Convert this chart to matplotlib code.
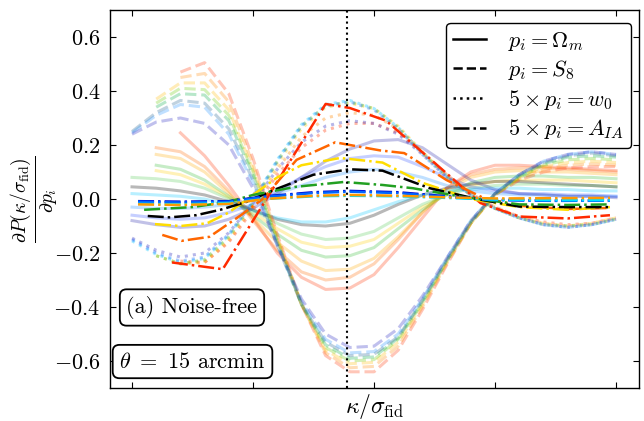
import numpy as np
import matplotlib
matplotlib.use("Agg")
import matplotlib.pyplot as plt
from matplotlib.lines import Line2D

plt.rcParams["font.family"] = "serif"
plt.rcParams["font.serif"] = ["cmr10"]
plt.rcParams["mathtext.fontset"] = "cm"
plt.rcParams["axes.formatter.use_mathtext"] = True

nan = np.nan

# kappa / sigma_fid grid (arbitrary units, ticks unlabeled in the figure)
KAPPA = [0.0, 0.2, 0.4, 0.6, 0.8, 1.0, 1.2, 1.4, 1.6, 1.8, 2.0,
         2.2, 2.4, 2.6, 2.8, 3.0, 3.2, 3.4, 3.6, 3.8, 4.0]
KAPPA_TICKS = [0, 1, 2, 3, 4]
KAPPA_PEAK = 1.78
Y_TICKS = [-0.6, -0.4, -0.2, 0.0, 0.2, 0.4, 0.6]

# p_i = Omega_m (faint solid)
OM_COLORS = ["#ff3300", "#ff6a00", "#ffaa00", "#33bb33", "#ffd000", "#55cc55",
             "#000000", "#00c8ff", "#1e90ff", "#3355ff", "#2222aa"]
OM_CURVES = [
    [nan, nan, 0.245, 0.16, 0.05, -0.07, -0.20, -0.29, -0.335, -0.33, -0.28, -0.18, -0.07, 0.04, 0.10, 0.125, 0.125, 0.12, 0.115, 0.11, 0.105],
    [nan, 0.19, 0.175, 0.12, 0.03, -0.08, -0.19, -0.27, -0.30, -0.29, -0.24, -0.15, -0.05, 0.04, 0.09, 0.11, 0.115, 0.115, 0.11, 0.105, 0.10],
    [nan, 0.165, 0.15, 0.10, 0.02, -0.07, -0.16, -0.23, -0.265, -0.26, -0.22, -0.14, -0.05, 0.03, 0.08, 0.10, 0.105, 0.10, 0.10, 0.095, 0.09],
    [nan, 0.125, 0.11, 0.07, 0.01, -0.06, -0.13, -0.19, -0.215, -0.21, -0.18, -0.11, -0.04, 0.02, 0.06, 0.08, 0.085, 0.085, 0.08, 0.08, 0.075],
    [nan, 0.105, 0.09, 0.055, 0.005, -0.05, -0.11, -0.16, -0.18, -0.175, -0.15, -0.09, -0.03, 0.015, 0.05, 0.065, 0.07, 0.07, 0.07, 0.065, 0.06],
    [0.08, 0.075, 0.065, 0.04, 0.0, -0.04, -0.09, -0.13, -0.15, -0.145, -0.12, -0.07, -0.02, 0.015, 0.04, 0.05, 0.055, 0.055, 0.05, 0.05, 0.045],
    [0.045, 0.04, 0.03, 0.015, -0.01, -0.04, -0.075, -0.095, -0.10, -0.09, -0.06, -0.02, 0.015, 0.04, 0.055, 0.065, 0.065, 0.06, 0.055, 0.05, 0.045],
    [0.02, 0.015, 0.01, 0.0, -0.02, -0.045, -0.07, -0.085, -0.085, -0.07, -0.04, -0.01, 0.015, 0.03, 0.035, 0.04, 0.04, 0.035, 0.035, 0.03, 0.03],
    [-0.03, -0.035, -0.035, -0.03, -0.02, -0.005, 0.02, 0.05, 0.08, 0.10, 0.11, 0.10, 0.08, 0.05, 0.03, 0.02, 0.015, 0.015, 0.01, 0.01, 0.01],
    [-0.06, -0.07, -0.075, -0.07, -0.05, -0.02, 0.03, 0.08, 0.12, 0.15, 0.16, 0.155, 0.12, 0.08, 0.045, 0.03, 0.02, 0.02, 0.015, 0.015, 0.01],
    [-0.08, -0.095, -0.105, -0.10, -0.075, -0.035, 0.02, 0.08, 0.14, 0.185, 0.215, 0.22, 0.19, 0.13, 0.07, 0.035, 0.02, 0.015, 0.01, 0.01, 0.005],
]

# p_i = S_8 (faint dashed)
S8_COLORS = ["#ff3300", "#ff8800", "#ffbb00", "#66cc00", "#00aa44",
             "#1f5f8f", "#1e90ff", "#2020c0"]
S8_CURVES = [
    [nan, nan, 0.47, 0.505, 0.39, 0.15, -0.13, -0.39, -0.58, -0.64, -0.64, -0.56, -0.41, -0.245, -0.09, 0.015, 0.07, 0.10, 0.115, 0.12, 0.12],
    [nan, nan, 0.45, 0.465, 0.36, 0.13, -0.14, -0.39, -0.57, -0.625, -0.62, -0.545, -0.40, -0.24, -0.09, 0.015, 0.075, 0.11, 0.125, 0.13, 0.125],
    [nan, 0.37, 0.43, 0.43, 0.33, 0.11, -0.15, -0.39, -0.56, -0.61, -0.605, -0.53, -0.39, -0.235, -0.09, 0.015, 0.08, 0.12, 0.135, 0.14, 0.135],
    [nan, 0.355, 0.41, 0.405, 0.31, 0.10, -0.15, -0.39, -0.55, -0.60, -0.595, -0.52, -0.385, -0.23, -0.09, 0.015, 0.08, 0.125, 0.145, 0.15, 0.145],
    [nan, 0.34, 0.39, 0.385, 0.29, 0.09, -0.16, -0.39, -0.54, -0.59, -0.585, -0.515, -0.38, -0.23, -0.085, 0.02, 0.085, 0.13, 0.155, 0.16, 0.155],
    [0.25, 0.32, 0.365, 0.355, 0.26, 0.07, -0.17, -0.39, -0.53, -0.58, -0.575, -0.51, -0.375, -0.225, -0.085, 0.02, 0.09, 0.135, 0.16, 0.17, 0.16],
    [0.245, 0.31, 0.35, 0.34, 0.24, 0.06, -0.17, -0.38, -0.52, -0.57, -0.565, -0.50, -0.37, -0.22, -0.08, 0.02, 0.09, 0.14, 0.165, 0.175, 0.165],
    [0.24, 0.285, 0.30, 0.28, 0.20, 0.04, -0.17, -0.37, -0.50, -0.55, -0.545, -0.48, -0.36, -0.22, -0.08, 0.02, 0.09, 0.14, 0.165, 0.175, 0.165],
]

# 5 x p_i = w_0 (faint dotted)
W0_COLORS = ["#ff3300", "#ff8800", "#ffcc00", "#33bb33", "#00c8ff", "#1e70ff", "#3030c0"]
W0_CURVES = [
    [nan, nan, -0.23, -0.235, -0.16, -0.04, 0.09, 0.19, 0.255, 0.28, 0.28, 0.245, 0.17, 0.09, 0.02, -0.03, -0.065, -0.085, -0.095, -0.09, -0.07],
    [nan, nan, -0.24, -0.235, -0.155, -0.03, 0.11, 0.23, 0.30, 0.32, 0.31, 0.26, 0.175, 0.09, 0.02, -0.03, -0.065, -0.09, -0.10, -0.09, -0.07],
    [nan, -0.21, -0.24, -0.23, -0.145, -0.02, 0.13, 0.26, 0.34, 0.355, 0.335, 0.27, 0.175, 0.085, 0.015, -0.035, -0.07, -0.09, -0.10, -0.09, -0.07],
    [nan, -0.21, -0.24, -0.225, -0.14, -0.015, 0.14, 0.27, 0.345, 0.36, 0.335, 0.265, 0.17, 0.085, 0.015, -0.035, -0.07, -0.095, -0.10, -0.095, -0.075],
    [-0.155, -0.205, -0.235, -0.22, -0.135, -0.01, 0.145, 0.275, 0.35, 0.365, 0.335, 0.265, 0.17, 0.085, 0.015, -0.035, -0.07, -0.095, -0.105, -0.095, -0.075],
    [-0.15, -0.20, -0.23, -0.215, -0.13, -0.01, 0.14, 0.27, 0.345, 0.36, 0.33, 0.26, 0.165, 0.08, 0.015, -0.035, -0.07, -0.095, -0.105, -0.095, -0.075],
    [-0.145, -0.19, -0.215, -0.20, -0.125, -0.015, 0.11, 0.21, 0.27, 0.29, 0.28, 0.24, 0.165, 0.08, 0.015, -0.035, -0.07, -0.095, -0.105, -0.095, -0.075],
]

# 5 x p_i = A_IA (bold dash-dot, coarse sampling)
IA_COLORS = ["#ff2a00", "#ff6600", "#ffdd00", "#000000", "#22a022",
             "#0000cc", "#0066ff", "#00e0ff", "#ff9900"]
IA_X = [
    [0.33, 0.75, 1.6, 1.8, 2.1, 2.6, 2.88, 3.2, 3.6, 3.95],
    [0.25, 0.41, 0.64, 0.9, 1.08, 1.36, 1.68, 1.8, 2.05, 2.25, 2.6, 2.9, 3.2, 3.6, 3.95],
    [0.19, 0.4, 0.62, 0.8, 1.2, 1.4, 1.72, 2.07, 2.4, 2.8, 3.2, 3.6, 3.95],
    [0.13, 0.31, 0.53, 0.73, 0.95, 1.17, 1.5, 1.8, 2.07, 2.46, 2.85, 3.2, 3.6, 3.95],
    [0.1, 0.5, 0.8, 1.0, 1.35, 1.75, 2.07, 2.32, 2.73, 3.2, 3.6, 3.95],
    [0.05, 0.4, 0.8, 1.1, 1.5, 1.8, 2.2, 2.6, 3.0, 3.5, 3.95],
    [0.05, 0.4, 0.8, 1.1, 1.5, 1.8, 2.2, 2.6, 3.0, 3.5, 3.95],
    [0.05, 0.4, 0.8, 1.1, 1.5, 1.8, 2.2, 2.6, 3.0, 3.5, 3.95],
    [0.05, 0.4, 0.8, 1.1, 1.5, 1.8, 2.2, 2.6, 3.0, 3.5, 3.95],
]
IA_Y = [
    [-0.235, -0.26, 0.352, 0.337, 0.29, 0.095, -0.015, -0.065, -0.072, -0.06],
    [-0.133, -0.155, -0.14, -0.06, 0.0, 0.145, 0.21, 0.20, 0.18, 0.17, 0.07, 0.005, -0.025, -0.037, -0.033],
    [-0.093, -0.10, -0.09, -0.05, 0.08, 0.125, 0.152, 0.135, 0.06, 0.0, -0.03, -0.04, -0.03],
    [-0.063, -0.068, -0.06, -0.04, -0.01, 0.033, 0.09, 0.11, 0.105, 0.04, 0.0, -0.028, -0.03, -0.03],
    [-0.04, -0.03, -0.01, 0.015, 0.045, 0.063, 0.052, 0.04, 0.008, -0.02, -0.022, -0.02],
    [-0.008, -0.01, -0.008, 0.01, 0.025, 0.03, 0.025, 0.01, -0.003, -0.006, -0.005],
    [-0.01, -0.013, -0.01, 0.008, 0.022, 0.027, 0.022, 0.008, -0.004, -0.007, -0.006],
    [-0.018, -0.02, -0.015, 0.0, 0.01, 0.012, 0.01, 0.004, -0.002, -0.004, -0.004],
    [-0.02, -0.022, -0.018, 0.0, 0.012, 0.015, 0.012, 0.006, 0.002, 0.003, 0.004],
]

LEGEND_LABELS = [r"$p_i = \Omega_m$", r"$p_i = S_8$",
                 r"$5 \times p_i = w_0$", r"$5 \times p_i = A_{IA}$"]
LEGEND_STYLES = ["-", "--", ":", "-."]

fig = plt.figure(figsize=(6.44, 4.21), dpi=100)
ax = fig.add_axes([110 / 644, 1 - 388 / 421, 529 / 644, 378 / 421])

for color, vals in zip(OM_COLORS, OM_CURVES):
    ax.plot(KAPPA, vals, "-", color=color, lw=2.2, alpha=0.28)
for color, vals in zip(S8_COLORS, S8_CURVES):
    ax.plot(KAPPA, vals, "--", color=color, lw=2.2, alpha=0.28)
for color, vals in zip(W0_COLORS, W0_CURVES):
    ax.plot(KAPPA, vals, ":", color=color, lw=2.2, alpha=0.35)
for color, xs, ys in zip(IA_COLORS, IA_X, IA_Y):
    ax.plot(xs, ys, "-.", color=color, lw=1.8, zorder=5)

ax.axvline(KAPPA_PEAK, color="black", ls=":", lw=1.5, zorder=6)

ax.set_xlim(-0.182, 4.19)
ax.set_ylim(-0.7, 0.7)
ax.set_xticks(KAPPA_TICKS)
ax.set_xticklabels([])
ax.set_yticks(Y_TICKS)
ax.tick_params(direction="in", top=True, right=True, length=4, width=0.8,
               labelsize=16, pad=7)
for s in ax.spines.values():
    s.set_linewidth(1.0)

ax.set_xlabel(r"$\kappa/\sigma_{\rm fid}$", fontsize=17, va="top")
ax.xaxis.set_label_coords(0.5, -0.01)
ax.set_ylabel(r"$\frac{\partial P(\kappa/\sigma_{\rm fid})}{\partial p_i}$",
              fontsize=20)
ax.yaxis.set_label_coords(-0.095, 0.5)

handles = [Line2D([], [], color="black", ls=st, lw=1.8) for st in LEGEND_STYLES]
leg = ax.legend(handles, LEGEND_LABELS, loc="upper right",
                bbox_to_anchor=((631 - 110) / 529, (388 - 23) / 378),
                borderaxespad=0, fontsize=16, handlelength=1.5,
                handletextpad=1.0, labelspacing=0.25, borderpad=0.3,
                fancybox=True, framealpha=1)
leg.get_frame().set_edgecolor("black")
leg.get_frame().set_linewidth(1.0)

box = dict(boxstyle="round,pad=0.3", fc="white", ec="black", lw=1.3)
ax.text(0.155, 0.213, "(a) Noise-free", transform=ax.transAxes, fontsize=16,
        ha="center", va="center", bbox=box, zorder=7)
ax.text(0.156, 0.07, r"$\theta\ =\ 15$ arcmin", transform=ax.transAxes,
        fontsize=16, ha="center", va="center", bbox=box, zorder=7)

fig.savefig("out.png", dpi=100)
